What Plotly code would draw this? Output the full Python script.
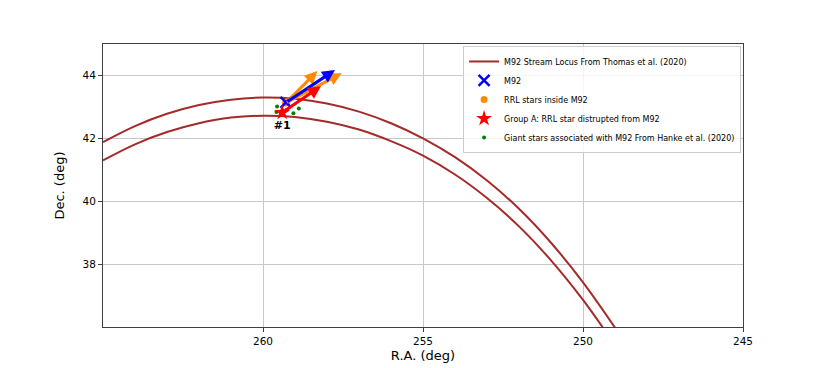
'''
    M92 stream locus with the proper-motion vectors of M92 and its RR Lyrae stars.
'''
import plotly.graph_objects as go

# Stream locus (Thomas et al. 2020) at whole degrees of R.A.
locus_ra = [265, 264, 263, 262, 261, 260, 259, 258, 257, 256, 255, 254,
            253, 252, 251, 250, 249]
locus_upper_dec = [41.88, 42.39, 42.78, 43.06, 43.23, 43.30, 43.26, 43.11,
                   42.85, 42.48, 42.00, 41.40, 40.66, 39.76, 38.68, 37.42, 35.98]
locus_lower_dec = [41.30, 41.81, 42.20, 42.48, 42.66, 42.72, 42.68, 42.53,
                   42.28, 41.91, 41.45, 40.85, 40.10, 39.20, 38.12, 36.86, 35.42]

# M92 centre and its proper-motion arrow tip
m92_ra = [259.28]
m92_dec = [43.14]
m92_tip_ra = [257.75]
m92_tip_dec = [44.17]

# RR Lyrae stars inside M92 and their arrow tips
rrl_ra = [259.25, 259.30]
rrl_dec = [43.16, 43.12]
rrl_tip_ra = [258.30, 257.54]
rrl_tip_dec = [44.14, 44.07]

# Group A star and its arrow tip
groupa_ra = [259.40]
groupa_dec = [42.82]
groupa_tip_ra = [258.19]
groupa_tip_dec = [43.66]
groupa_labels = ['#1']

# Giant stars from Hanke et al. (2020)
giant_ra = [259.56, 259.58, 258.88, 259.05, 259.26, 259.44]
giant_dec = [43.01, 42.84, 42.95, 42.80, 42.90, 42.79]

BROWN = '#a52a2a'
FONT = 'DejaVu Sans'


def add_arrows(fig, x0, y0, x1, y1, color):
    '''
        Draws one arrow per star, from its position to the tip.
    '''
    for xa, ya, xb, yb in zip(x0, y0, x1, y1):
        fig.add_annotation(
            x=xb, y=yb, ax=xa, ay=ya,
            xref='x', yref='y', axref='x', ayref='y',
            text='', showarrow=True,
            arrowhead=2, arrowsize=0.8, arrowwidth=3.2,
            arrowcolor=color
        )


fig = go.Figure()

fig.add_trace(go.Scatter(
    x=locus_ra, y=locus_upper_dec, mode='lines', line_shape='spline',
    line=dict(color=BROWN, width=2), legendrank=1,
    name='M92 Stream Locus From Thomas et al. (2020)'
))
fig.add_trace(go.Scatter(
    x=locus_ra, y=locus_lower_dec, mode='lines', line_shape='spline',
    line=dict(color=BROWN, width=2), showlegend=False
))
fig.add_trace(go.Scatter(
    x=rrl_ra, y=rrl_dec, mode='markers', legendrank=3,
    marker=dict(symbol='circle', size=7, color='#ff8c00'),
    name='RRL stars inside M92'
))
fig.add_trace(go.Scatter(
    x=m92_ra, y=m92_dec, mode='markers', legendrank=2,
    marker=dict(symbol='x-thin', size=11, line=dict(color='blue', width=2.5)),
    name='M92'
))
fig.add_trace(go.Scatter(
    x=giant_ra, y=giant_dec, mode='markers', legendrank=5,
    marker=dict(symbol='circle', size=4, color='green'),
    name='Giant stars associated with M92 From Hanke et al. (2020)'
))
fig.add_trace(go.Scatter(
    x=groupa_ra, y=groupa_dec, mode='markers+text', legendrank=4,
    marker=dict(symbol='star', size=12, color='red'),
    text=['<b>' + t + '</b>' for t in groupa_labels],
    textposition='bottom center',
    textfont=dict(family=FONT, size=11, color='black'),
    name='Group A: RRL star distrupted from M92'
))

add_arrows(fig, rrl_ra, rrl_dec, rrl_tip_ra, rrl_tip_dec, '#ff8c00')
add_arrows(fig, m92_ra, m92_dec, m92_tip_ra, m92_tip_dec, 'blue')
add_arrows(fig, groupa_ra, groupa_dec, groupa_tip_ra, groupa_tip_dec, 'red')

axis_style = dict(
    showgrid=True, gridcolor='#c8c8c8', gridwidth=1,
    showline=True, linecolor='#404040', linewidth=1, mirror=True,
    ticks='outside', ticklen=4, tickcolor='#404040',
    tickfont=dict(family=FONT, size=10.5, color='black'),
    zeroline=False
)

fig.update_xaxes(
    range=[265, 245], tickvals=[260, 255, 250, 245],
    title=dict(text='R.A. (deg)', font=dict(family=FONT, size=13, color='black'),
               standoff=5),
    **axis_style
)
fig.update_yaxes(
    range=[36, 45], tickvals=[38, 40, 42, 44],
    title=dict(text='Dec. (deg)', font=dict(family=FONT, size=13, color='black'),
               standoff=14),
    **axis_style
)

# the page body adds an 8px offset, so the margins are shifted to compensate
fig.update_layout(
    width=828, height=368,
    margin=dict(l=95, r=93, t=36, b=49),
    paper_bgcolor='white', plot_bgcolor='white',
    font=dict(family=FONT),
    legend=dict(
        x=0.997, y=0.993, xanchor='right', yanchor='top',
        bgcolor='rgba(255,255,255,0.8)', bordercolor='#cccccc', borderwidth=1,
        font=dict(family=FONT, size=8, color='black'),
        traceorder='normal', tracegroupgap=0, itemwidth=30
    ),
    showlegend=True
)

fig.write_html('out.html')
